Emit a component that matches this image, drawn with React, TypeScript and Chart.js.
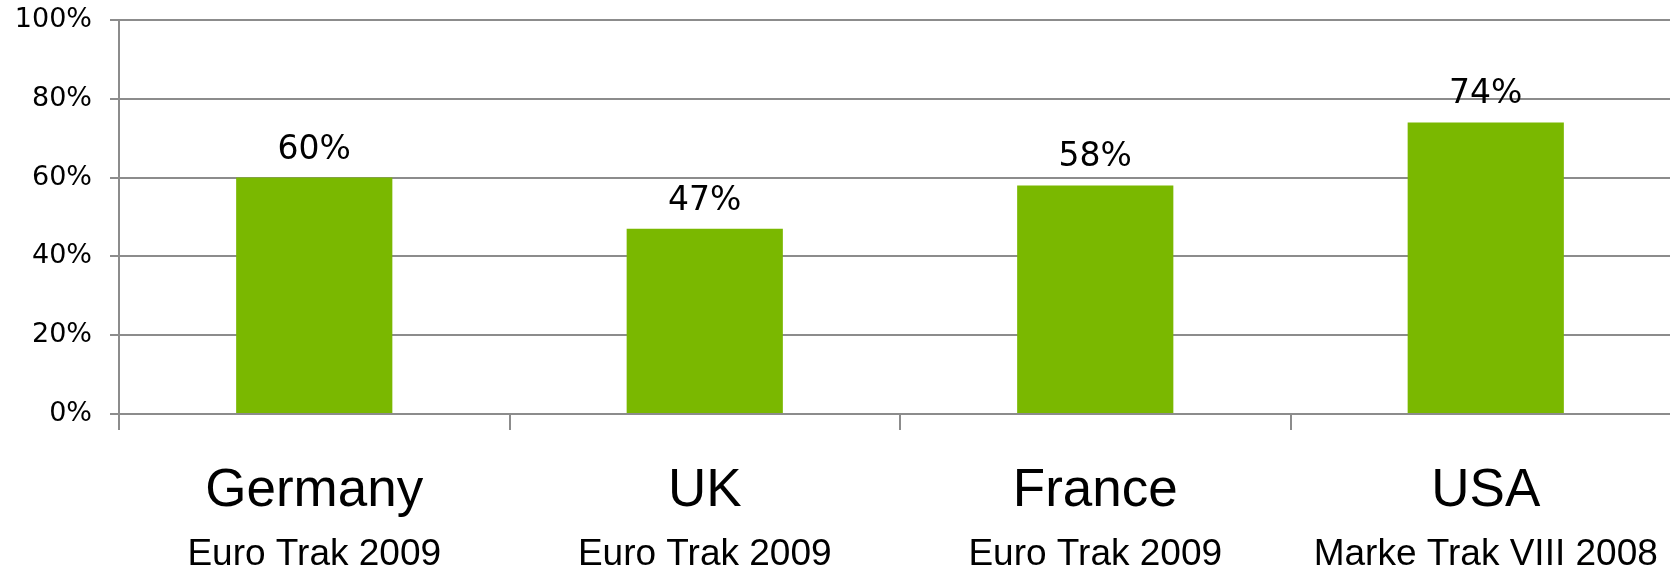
import React, { useEffect, useRef } from "react";
import { Chart, registerables } from "chart.js";

Chart.register(...registerables);

const countries = ["Germany", "UK", "France", "USA"];
const sources = ["Euro Trak 2009", "Euro Trak 2009", "Euro Trak 2009", "Marke Trak VIII 2008"];
const values = [60, 47, 58, 74];
const yTicks = [0, 20, 40, 60, 80, 100];

const GRID = "#8c8c8c";
const BAR = "#7AB800";

const valueLabels = {
  id: "valueLabels",
  afterDatasetsDraw(chart: any) {
    const ctx = chart.ctx;
    const meta = chart.getDatasetMeta(0);
    ctx.save();
    ctx.font = "33px 'DejaVu Sans'";
    ctx.fillStyle = "#000";
    ctx.textAlign = "center";
    ctx.textBaseline = "alphabetic";
    meta.data.forEach((el: any, i: number) => {
      ctx.fillText(values[i] + "%", el.x, el.y - 19);
    });
    ctx.restore();
  },
};

export default function App() {
  const ref = useRef<HTMLCanvasElement | null>(null);
  useEffect(() => {
    if (!ref.current) return;
    const chart = new Chart(ref.current, {
      type: "bar",
      data: {
        labels: countries,
        datasets: [
          {
            data: values,
            backgroundColor: BAR,
            borderWidth: 0,
            barPercentage: 0.4,
            categoryPercentage: 1,
            xAxisID: "x",
          },
        ],
      },
      options: {
        animation: false,
        responsive: false,
        maintainAspectRatio: false,
        layout: { padding: { top: 20, right: 19, left: 0, bottom: 0 } },
        plugins: { legend: { display: false }, tooltip: { enabled: false } },
        scales: {
          x: {
            type: "category",
            position: "bottom",
            weight: 0,
            offset: true,
            grid: {
              offset: true,
              drawOnChartArea: false,
              drawTicks: true,
              tickLength: 16,
              color: GRID,
              lineWidth: 2,
            },
            border: { display: true, color: GRID, width: 2 },
            ticks: {
              color: "#000",
              font: { family: "'Liberation Sans'", size: 53 },
              padding: 30,
              maxRotation: 0,
              autoSkip: false,
            },
            afterFit: (s: any) => {
              s.height = 105;
            },
          },
          x2: {
            type: "category",
            position: "bottom",
            weight: 1,
            offset: true,
            labels: sources,
            grid: { display: false, drawOnChartArea: false },
            border: { display: false },
            ticks: {
              color: "#000",
              font: { family: "'Liberation Sans'", size: 37 },
              padding: 6,
              maxRotation: 0,
              autoSkip: false,
            },
            afterFit: (s: any) => {
              s.height = 53;
            },
          },
          y: {
            min: 0,
            max: 100,
            afterBuildTicks: (s: any) => {
              s.ticks = yTicks.map((v) => ({ value: v }));
            },
            grid: { color: GRID, lineWidth: 2, tickLength: 9, drawTicks: true },
            border: { display: true, color: GRID, width: 2 },
            ticks: {
              color: "#000",
              font: { family: "'DejaVu Sans'", size: 27 },
              padding: 18,
              callback: (v: any) => v + "%",
            },
            afterFit: (s: any) => {
              s.width = 119;
              s.paddingTop = 0;
              s.paddingBottom = 0;
            },
          },
        },
      },
      plugins: [valueLabels],
    });
    return () => chart.destroy();
  }, []);
  return (
    <div
      style={{
        position: "fixed",
        left: 0,
        top: 0,
        width: 1670,
        height: 572,
        overflow: "hidden",
        background: "#fff",
      }}
    >
      <canvas ref={ref} width={1700} height={572} style={{ display: "block" }} />
    </div>
  );
}
